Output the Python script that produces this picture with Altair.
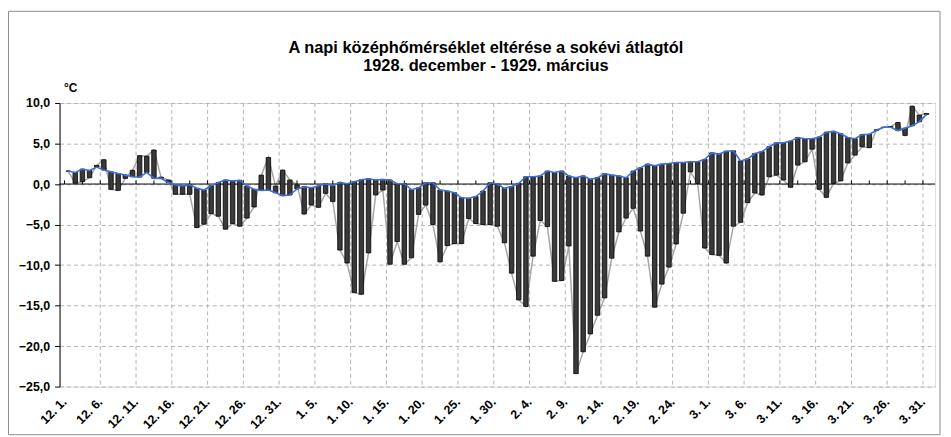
import json
import altair as alt
import pandas as pd

# ---- data ----
months = [("12", 31), ("1", 31), ("2", 28), ("3", 31)]
days = [f"{m}. {d}." for m, n in months for d in range(1, n + 1)]

mean_vals = [
    1.6, 1.43, 1.84, 1.68, 2.1, 1.72, 1.5, 1.3, 1.1, 0.9,
    0.86, 1.43, 0.7, 0.7, 0.2, -0.12, -0.25, -0.1, -0.53, -0.74,
    -0.2, 0.2, 0.5, 0.37, 0.45, -0.25, -0.65, -0.8, -0.74, -1.07,
    -1.43, -1.35, -0.6, -0.33, -0.45, -0.25, 0.05, -0.2, 0.2, 0.04,
    0.29, 0.53, 0.65, 0.5, 0.57, 0.5, 0.04, 0.04, -0.7, -0.45,
    0.16, 0.16, -0.74, -0.86, -1.07, -1.7, -1.76, -1.55, -0.86, 0.16,
    0.0, -0.53, -0.3, 0.08, 0.9, 0.9, 1.0, 1.6, 1.43, 1.6,
    1.0, 0.78, 1.0, 0.6, 0.78, 1.27, 1.1, 1.0, 0.78, 1.6,
    2.0, 2.46, 2.25, 2.46, 2.54, 2.66, 2.66, 2.75, 2.75, 3.05,
    3.85, 3.7, 4.05, 4.1, 2.85, 3.1, 3.77, 4.0, 4.6, 5.08,
    5.08, 5.3, 5.74, 5.6, 5.6, 5.8, 6.4, 6.5, 6.2, 5.74,
    5.6, 6.1, 6.15, 6.6, 7.0, 7.0, 6.6, 6.9, 7.2, 7.7,
    8.6,
]

actual_vals = [
    1.6, 0.1, 0.3, 0.78, 2.3, 3.0, -0.66, -0.78, 0.7, 1.7,
    3.5, 3.44, 4.2, 0.85, 0.5, -1.27, -1.27, -1.27, -5.37, -4.96,
    -3.65, -3.97, -5.57, -4.88, -5.2, -4.2, -2.83, 1.1, 3.28, -0.25,
    1.72, 0.5, -0.1, -3.7, -2.58, -2.87, -1.15, -2.17, -8.15, -9.75,
    -13.4, -13.6, -8.5, -1.35, -0.74, -9.9, -7.1, -9.9, -9.1, -3.75,
    -2.6, -5.0, -9.6, -7.6, -7.35, -7.35, -4.25, -4.87, -5.0, -5.0,
    -5.2, -7.25, -11.0, -14.3, -15.1, -8.9, -4.5, -5.25, -12.0, -11.9,
    -7.65, -23.4, -20.7, -18.5, -16.2, -14.05, -9.15, -5.9, -4.2, -3.0,
    -5.8, -8.9, -15.2, -12.35, -10.25, -7.4, -3.6, 1.5, 0.08, -7.9,
    -8.7, -8.8, -9.75, -5.2, -4.72, -2.3, -1.1, -1.35, 0.9, 1.1,
    0.5, -0.4, 2.34, 2.75, 4.3, -0.65, -1.64, 0.08, 0.4, 2.6,
    3.57, 4.6, 4.5, 6.7, 7.0, 7.1, 7.6, 6.0, 9.6, 8.5,
    8.7,
]

tick_labels = [
    "12. 1.", "12. 6.", "12. 11.", "12. 16.", "12. 21.", "12. 26.", "12. 31.",
    "1. 5.", "1. 10.", "1. 15.", "1. 20.", "1. 25.", "1. 30.",
    "2. 4.", "2. 9.", "2. 14.", "2. 19.", "2. 24.",
    "3. 1.", "3. 6.", "3. 11.", "3. 16.", "3. 21.", "3. 26.", "3. 31.",
]

title_lines = [
    "A napi középhőmérséklet eltérése a sokévi átlagtól",
    "1928. december - 1929. március",
]

# ---- tables ----
n = len(days)
df = pd.DataFrame({
    "i": list(range(n)),
    "day": days,
    "mean": mean_vals,
    "actual": actual_vals,
})
grid_df = pd.DataFrame({"g": [-0.5 + 5 * k for k in range(1, 24 + 1)]})
tick_df = pd.DataFrame({"t": [-0.5 + 2.5 * k for k in range(0, 49)]})

FONT = "Liberation Sans"
W, H = 883, 286
PAD_L, PAD_T, PAD_B = 52, 94, 49

xscale = alt.Scale(domain=[-0.5, n - 0.5], nice=False, zero=False)
yscale = alt.Scale(domain=[-25, 10], nice=False, zero=False)

label_expr = json.dumps(tick_labels) + "[round(datum.value / 5)]"

x_axis = alt.Axis(
    values=list(range(0, n, 5)),
    labelExpr=label_expr,
    labelAngle=-45,
    labelAlign="right",
    labelBaseline="middle",
    labelFont=FONT,
    labelFontWeight="bold",
    labelFontSize=12.5,
    labelColor="black",
    labelPadding=13,
    labelOffset=-4,
    labelOverlap=False,
    domain=False,
    ticks=False,
    grid=False,
    title=None,
)

y_axis = alt.Axis(
    values=[10, 5, 0, -5, -10, -15, -20, -25],
    labelExpr="replace(format(datum.value, '.1f'), '.', ',')",
    labelFont=FONT,
    labelFontWeight="bold",
    labelFontSize=12.5,
    labelColor="black",
    labelPadding=5,
    tickSize=5,
    tickColor="black",
    domainColor="black",
    domainWidth=1,
    grid=True,
    gridColor="#b4b4b4",
    gridDash=[4, 3],
    gridWidth=1,
    title="°C",
    titleAngle=0,
    titleX=4,
    titleY=-16,
    titleAlign="left",
    titleBaseline="middle",
    titleFont=FONT,
    titleFontWeight="bold",
    titleFontSize=12,
    titleColor="black",
)

base = alt.Chart(df)

# outer chart-area frame (decoration, in pixels relative to the plot area)
frame = alt.Chart(pd.DataFrame({"f": [0]})).mark_rect(
    fill=None, stroke="#8c8c8c", strokeWidth=1, clip=False
).encode(
    x=alt.value(-PAD_L + 0.5),
    x2=alt.value(W + 5),
    y=alt.value(-PAD_T + 1.5),
    y2=alt.value(H + PAD_B - 0.5),
)

title1 = alt.Chart(pd.DataFrame({"t": [title_lines[0]]})).mark_text(
    font=FONT, fontSize=16.5, fontWeight="bold", color="black",
    align="center", baseline="middle",
).encode(text="t:N", x=alt.value(430), y=alt.value(-55))

title2 = alt.Chart(pd.DataFrame({"t": [title_lines[1]]})).mark_text(
    font=FONT, fontSize=16.5, fontWeight="bold", color="black",
    align="center", baseline="middle",
).encode(text="t:N", x=alt.value(430), y=alt.value(-37))

vgrid = alt.Chart(grid_df).mark_rule(
    color="#b4b4b4", strokeDash=[4, 3], strokeWidth=1
).encode(x=alt.X("g:Q", scale=xscale, axis=x_axis))

actual_line = base.mark_line(color="#a6a6a6", strokeWidth=1.5).encode(
    x=alt.X("i:Q", scale=xscale, axis=x_axis),
    y=alt.Y("actual:Q", scale=yscale, axis=y_axis),
)

zero_rule = alt.Chart(pd.DataFrame({"z": [0]})).mark_rule(
    color="black", strokeWidth=1
).encode(y=alt.Y("z:Q", scale=yscale, axis=y_axis))

zero_ticks = alt.Chart(tick_df).mark_rule(color="black", strokeWidth=1).encode(
    x=alt.X("t:Q", scale=xscale, axis=x_axis),
    y=alt.datum(0, scale=yscale),
    y2=alt.datum(0.45),
)

bars = base.mark_bar(
    size=4.5, fill="#3a3a3a", stroke="black", strokeWidth=0.8
).encode(
    x=alt.X("i:Q", scale=xscale, axis=x_axis),
    y=alt.Y("mean:Q", scale=yscale, axis=y_axis),
    y2="actual:Q",
)

mean_line = base.mark_line(color="#3d6fd6", strokeWidth=1.6).encode(
    x=alt.X("i:Q", scale=xscale, axis=x_axis),
    y=alt.Y("mean:Q", scale=yscale, axis=y_axis),
)

chart = alt.layer(
    frame, title1, title2, vgrid, actual_line, zero_rule, zero_ticks, bars, mean_line
).properties(
    width=W,
    height=H,
    padding={"left": PAD_L, "top": PAD_T, "right": 8, "bottom": PAD_B},
    autosize=alt.AutoSizeParams(type="none"),
).configure_view(
    stroke="#8c8c8c", strokeWidth=1
).configure(background="white")

chart.save("out.html", embed_options={"renderer": "svg", "actions": False})
